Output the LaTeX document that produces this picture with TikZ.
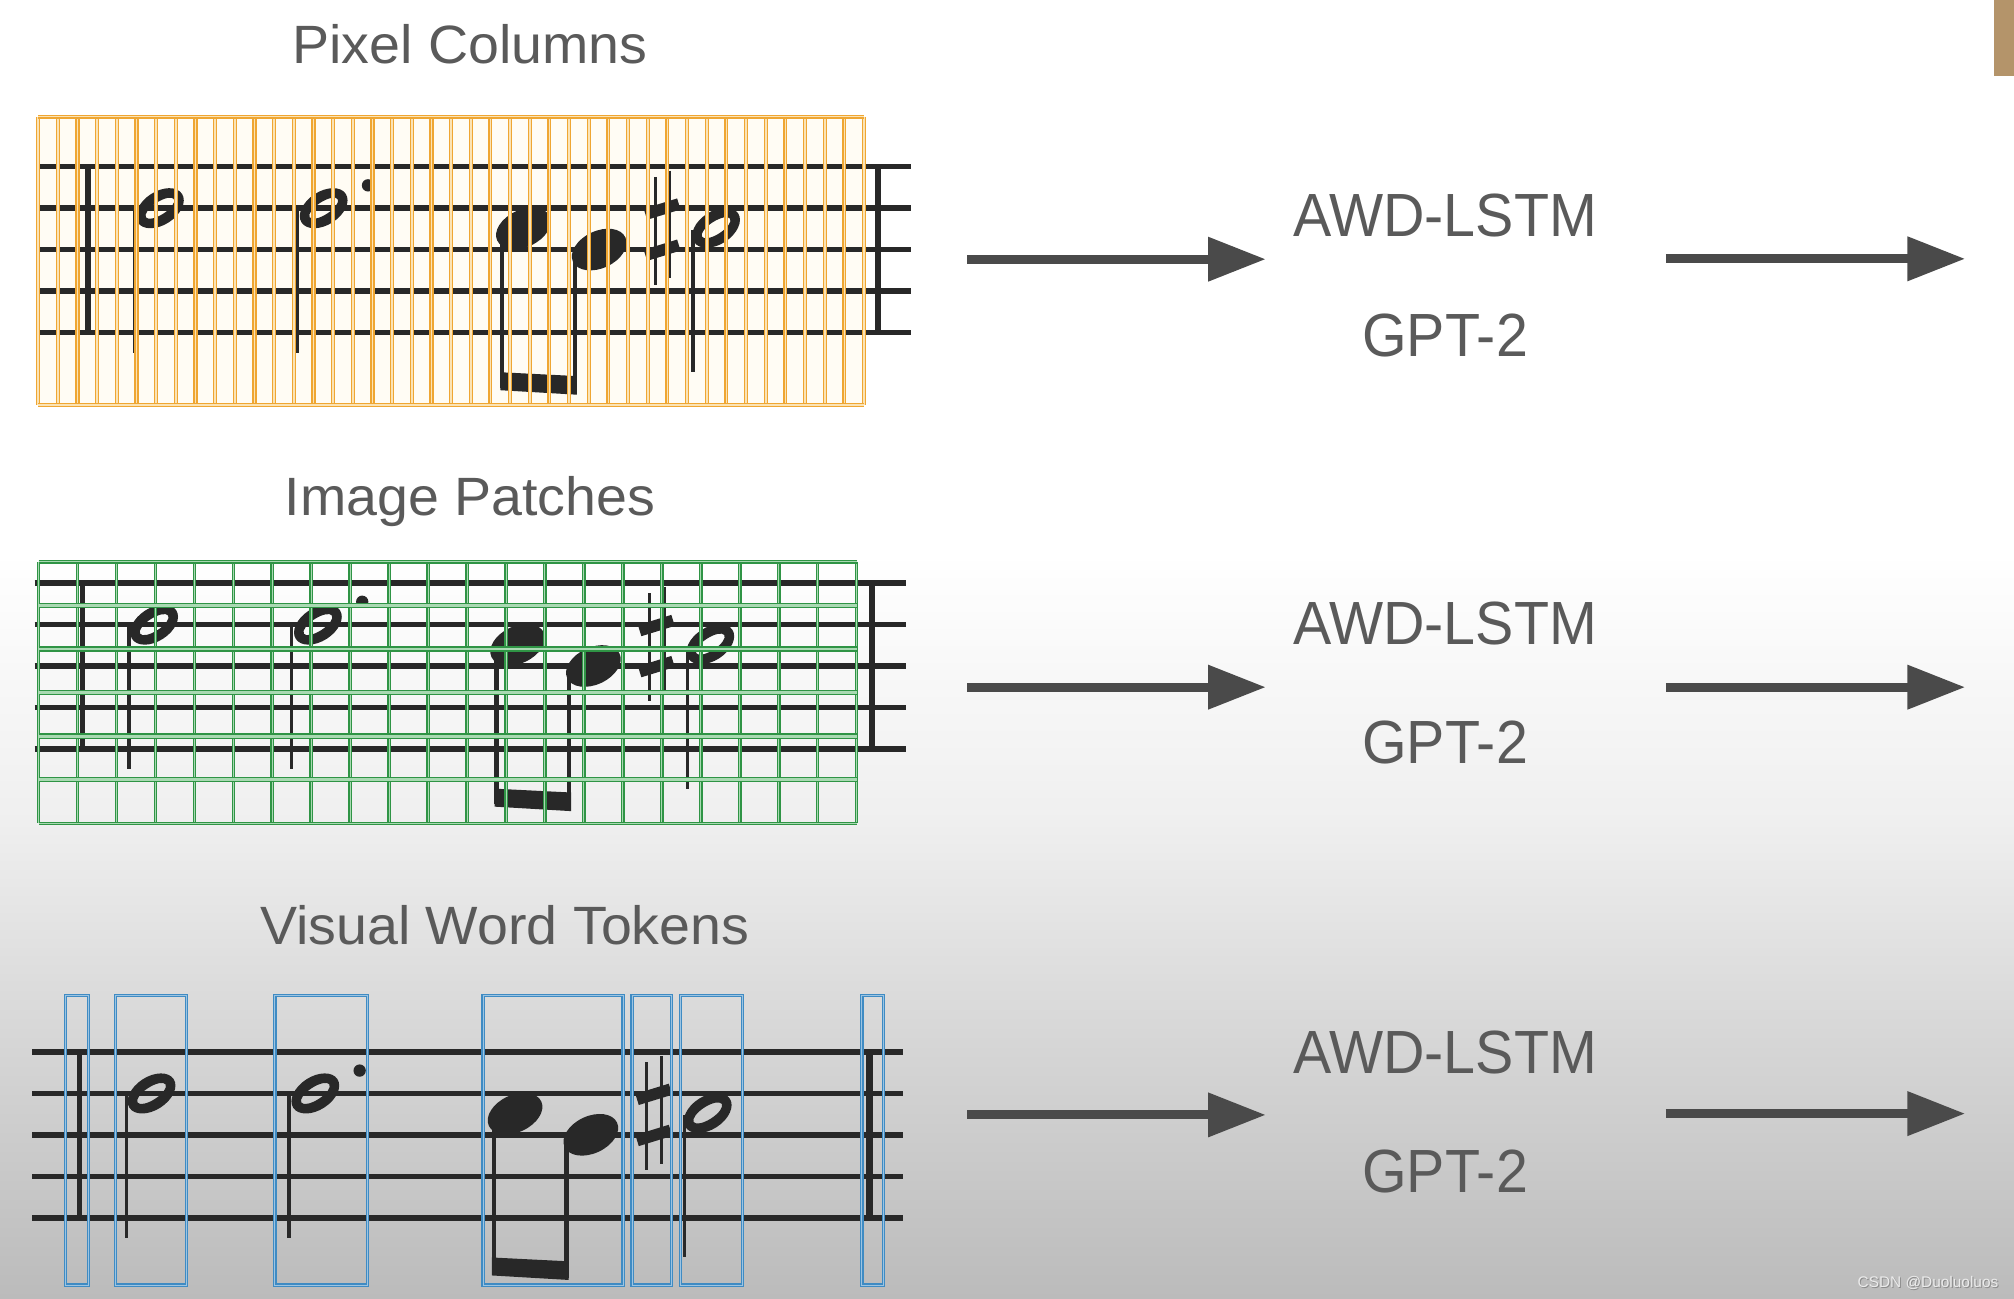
\documentclass[tikz,border=0pt]{standalone}
\usepackage{fontspec}
\setmainfont{Liberation Sans}
\usetikzlibrary{arrows.meta}
\definecolor{txtgray}{HTML}{5A5A5A}
\definecolor{arrowgray}{HTML}{4A4A4A}
\definecolor{staffblack}{HTML}{282828}
\definecolor{orangeline}{HTML}{EFA632}
\definecolor{orangecore}{HTML}{FBE3B4}
\definecolor{orangefill}{HTML}{FFFCF4}
\definecolor{greenline}{HTML}{2F9445}
\definecolor{greenfill}{HTML}{A9D9B2}
\definecolor{blueline}{HTML}{3F8BC3}
\definecolor{bluefill}{HTML}{9CC4E2}
\definecolor{brownbar}{HTML}{B4946A}
\definecolor{bgA}{HTML}{EFEFEF}
\definecolor{bgB}{HTML}{DDDDDD}
\definecolor{bgC}{HTML}{BBBBBB}

\newcommand\halfnotehead[2]{%
  \begin{scope}[shift={(#1,#2)},rotate=33]
    \fill[staffblack,even odd rule] (0,0) ellipse (20.5 and 13) (0,0) ellipse (13 and 5);
  \end{scope}}
\newcommand\fullnotehead[2]{%
  \begin{scope}[shift={(#1,#2)},rotate=25]
    \fill[staffblack] (0,0) ellipse (22.5 and 14.5);
  \end{scope}}
\newcommand\drawmusic[2]{%
  \begin{scope}[shift={(#1,#2)}]
    \foreach \k in {0,...,4} \draw[staffline] (-37,{\k*32.3}) -- (641,{\k*32.3});
    \draw[barline] (0,0) -- (0,129.2);
    \draw[barline,line width=4.8pt] (615,0) -- (615,129.2);
    % half note 1
    \halfnotehead{56}{32.3}
    \draw[stemline] (36.5,33) -- (36.5,145);
    % dotted half note 2
    \halfnotehead{183.5}{32.3}
    \draw[stemline] (163,33) -- (163,145);
    \fill[staffblack] (218,14.5) circle (4.8);
    % beamed eighths
    \fullnotehead{339}{48}
    \fullnotehead{398}{64.5}
    \draw[stemline,line width=3.4pt] (322.5,50) -- (322.5,172);
    \draw[stemline,line width=3.4pt] (379,66) -- (379,176);
    \fill[staffblack] (321,160) -- (380.7,163) -- (380.7,177.5) -- (321,174) -- cycle;
    % sharp
    \draw[stemline,line width=2.4pt] (441.5,8) -- (441.5,92);
    \draw[stemline,line width=2.4pt] (453,3) -- (453,87);
    \draw[staffblack,line width=9pt] (434,37) -- (460,29);
    \draw[staffblack,line width=9pt] (434,69) -- (460,61);
    % half note 3
    \halfnotehead{489}{47.5}
    \draw[stemline] (471,49) -- (471,160);
  \end{scope}}

\begin{document}
\begin{tikzpicture}[x=1pt,y=-1pt,
  staffline/.style={staffblack,line width=4.3pt},
  barline/.style={staffblack,line width=4pt},
  stemline/.style={staffblack,line width=2.6pt},
  ogrid/.style={orangeline,line width=1pt,double=orangecore,double distance=1.2pt},
  ggrid/.style={greenline,line width=1pt,double=greenfill,double distance=0.8pt},
  ggridh/.style={greenline,line width=1pt,double=greenfill,double distance=2.2pt},
  bbox/.style={blueline,line width=1pt,double=bluefill,double distance=0.6pt},
  title/.style={font=\fontsize{42}{50}\selectfont,text=txtgray,anchor=base,inner sep=0pt,xscale=1.03},
  model/.style={font=\fontsize{47.5}{56}\selectfont,text=txtgray,anchor=base,inner sep=0pt,xscale=0.94},
  flow/.style={arrowgray,line width=7pt,-{Triangle[length=45pt,width=33pt]}}]
\useasboundingbox (0,0) rectangle (1568,1011);
% background
\fill[white] (0,0) rectangle (1568,431);
\shade[top color=white,bottom color=bgA] (0,430) rectangle (1568,641);
\shade[top color=bgA,bottom color=bgB] (0,640) rectangle (1568,761);
\shade[top color=bgB,bottom color=bgC] (0,760) rectangle (1568,1011);
\fill[brownbar] (1552.5,0) rectangle (1568,59);

% ---------- row 1: pixel columns
\node[title] (t1) at (366,49.3) {Pixel Columns};
\fill[orangefill] (29.7,90.8) rectangle (672.7,315.3);
\drawmusic{68.5}{129.8}
\foreach \i in {0,...,42} \draw[ogrid] ({29.7+\i*15.31},90.8) -- ({29.7+\i*15.31},315.3);
\draw[ogrid] (29.7,90.8) -- (672.7,90.8);
\draw[ogrid] (29.7,315.3) -- (672.7,315.3);

% ---------- row 2: image patches
\node[title] (t2) at (366,401) {Image Patches};
\drawmusic{64}{454}
\foreach \i in {0,...,21} \draw[ggrid] ({30+\i*30.33},437.5) -- ({30+\i*30.33},641);
\draw[ggrid] (30,437.5) -- (667,437.5);
\draw[ggrid] (30,641) -- (667,641);
\foreach \k in {1,...,5} \draw[ggridh] (30,{437.5+\k*33.9}) -- (667,{437.5+\k*33.9});

% ---------- row 3: visual word tokens
\node[title] (t3) at (393,735) {Visual Word Tokens};
\drawmusic{62}{819}
\foreach \xa/\xb in {51/69,90/145,214/286,376/485,492/523,530/578,671/688}
  \draw[bbox] (\xa,775) rectangle (\xb,1000.5);

% ---------- models and arrows
\node[model] (m1a) at (1125,184) {AWD-LSTM};
\node[model] (m1b) at (1125,277.7) {GPT-2};
\node[model] (m2a) at (1125,502) {AWD-LSTM};
\node[model] (m2b) at (1125,594.5) {GPT-2};
\node[model] (m3a) at (1125,835.5) {AWD-LSTM};
\node[model] (m3b) at (1125,928.5) {GPT-2};

\coordinate (i1) at (753,201.8);  \coordinate (e1) at (985.5,201.8);
\coordinate (o1) at (1297,201.5); \coordinate (f1) at (1530,201.5);
\coordinate (i2) at (753,535);    \coordinate (e2) at (985.5,535);
\coordinate (o2) at (1297,535);   \coordinate (f2) at (1530,535);
\coordinate (i3) at (753,868);    \coordinate (e3) at (985.5,868);
\coordinate (o3) at (1297,867);   \coordinate (f3) at (1530,867);
\draw[flow] (i1) -- (e1); \draw[flow] (o1) -- (f1);
\draw[flow] (i2) -- (e2); \draw[flow] (o2) -- (f2);
\draw[flow] (i3) -- (e3); \draw[flow] (o3) -- (f3);

% watermark
\node[font=\fontsize{12}{14}\selectfont,text=black!45,anchor=base east,inner sep=0pt] (wms) at (1556.8,1002.8) {CSDN @Duoluoluos};
\node[font=\fontsize{12}{14}\selectfont,text=white!92!black,anchor=base east,inner sep=0pt] (wm) at (1556,1002) {CSDN @Duoluoluos};
\end{tikzpicture}
\end{document}
